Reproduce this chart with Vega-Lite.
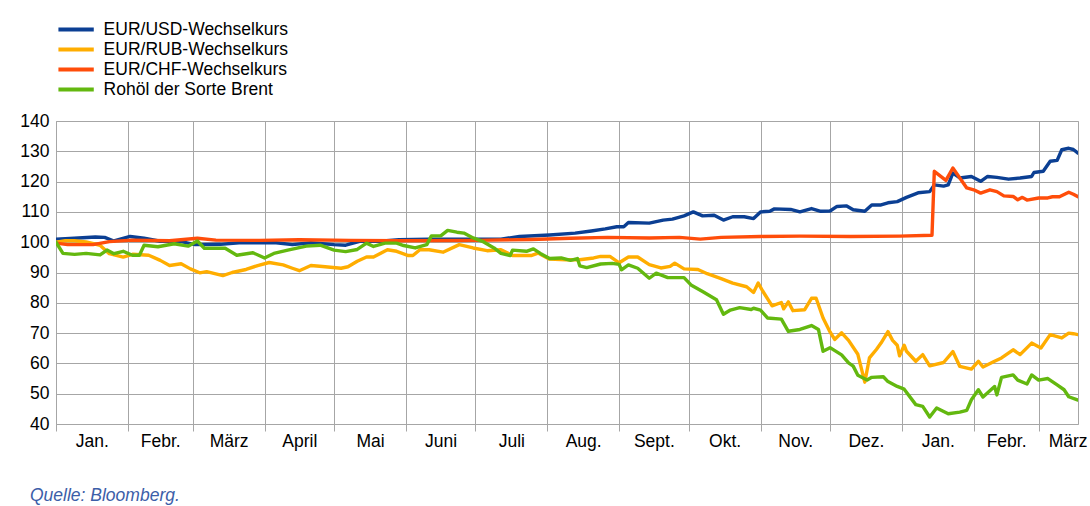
{
 "$schema": "https://vega.github.io/schema/vega-lite/v6.json",
 "width": 1022,
 "height": 303,
 "autosize": {"type": "none"},
 "padding": {"left": 56, "top": 121, "right": 12, "bottom": 82},
 "background": "white",
 "config": {"font": "Liberation Sans", "view": {"stroke": "#a6a6a6", "strokeWidth": 1}},
 "title": {"text": "Quelle: Bloomberg.", "orient": "bottom", "anchor": "start", "frame": "group", "dx": -26, "offset": 37, "fontSize": 17.5, "fontStyle": "italic", "fontWeight": "normal", "color": "#3c5ea8", "font": "Liberation Sans"},
 "data": {"values": [
  {"series": "EUR/USD-Wechselkurs", "date": "2014-01-01", "value": 101},
  {"series": "EUR/USD-Wechselkurs", "date": "2014-01-07", "value": 101.2},
  {"series": "EUR/USD-Wechselkurs", "date": "2014-01-18", "value": 101.7},
  {"series": "EUR/USD-Wechselkurs", "date": "2014-01-22", "value": 101.6},
  {"series": "EUR/USD-Wechselkurs", "date": "2014-01-26", "value": 100.4},
  {"series": "EUR/USD-Wechselkurs", "date": "2014-02-02", "value": 101.9},
  {"series": "EUR/USD-Wechselkurs", "date": "2014-02-08", "value": 101.3},
  {"series": "EUR/USD-Wechselkurs", "date": "2014-02-15", "value": 100.3},
  {"series": "EUR/USD-Wechselkurs", "date": "2014-02-24", "value": 100.2},
  {"series": "EUR/USD-Wechselkurs", "date": "2014-03-02", "value": 99.2},
  {"series": "EUR/USD-Wechselkurs", "date": "2014-03-13", "value": 99.3},
  {"series": "EUR/USD-Wechselkurs", "date": "2014-03-21", "value": 99.8},
  {"series": "EUR/USD-Wechselkurs", "date": "2014-04-06", "value": 99.8},
  {"series": "EUR/USD-Wechselkurs", "date": "2014-04-13", "value": 99.2},
  {"series": "EUR/USD-Wechselkurs", "date": "2014-04-21", "value": 99.8},
  {"series": "EUR/USD-Wechselkurs", "date": "2014-05-01", "value": 99.2},
  {"series": "EUR/USD-Wechselkurs", "date": "2014-05-06", "value": 99},
  {"series": "EUR/USD-Wechselkurs", "date": "2014-05-12", "value": 100.3},
  {"series": "EUR/USD-Wechselkurs", "date": "2014-05-21", "value": 100.3},
  {"series": "EUR/USD-Wechselkurs", "date": "2014-05-29", "value": 100.8},
  {"series": "EUR/USD-Wechselkurs", "date": "2014-06-11", "value": 101},
  {"series": "EUR/USD-Wechselkurs", "date": "2014-06-29", "value": 101},
  {"series": "EUR/USD-Wechselkurs", "date": "2014-07-12", "value": 101},
  {"series": "EUR/USD-Wechselkurs", "date": "2014-07-20", "value": 101.9},
  {"series": "EUR/USD-Wechselkurs", "date": "2014-08-02", "value": 102.4},
  {"series": "EUR/USD-Wechselkurs", "date": "2014-08-13", "value": 103},
  {"series": "EUR/USD-Wechselkurs", "date": "2014-08-20", "value": 103.7},
  {"series": "EUR/USD-Wechselkurs", "date": "2014-08-26", "value": 104.4},
  {"series": "EUR/USD-Wechselkurs", "date": "2014-08-31", "value": 105.1},
  {"series": "EUR/USD-Wechselkurs", "date": "2014-09-03", "value": 105.1},
  {"series": "EUR/USD-Wechselkurs", "date": "2014-09-05", "value": 106.5},
  {"series": "EUR/USD-Wechselkurs", "date": "2014-09-14", "value": 106.3},
  {"series": "EUR/USD-Wechselkurs", "date": "2014-09-20", "value": 107.3},
  {"series": "EUR/USD-Wechselkurs", "date": "2014-09-24", "value": 107.6},
  {"series": "EUR/USD-Wechselkurs", "date": "2014-09-29", "value": 108.7},
  {"series": "EUR/USD-Wechselkurs", "date": "2014-10-03", "value": 110},
  {"series": "EUR/USD-Wechselkurs", "date": "2014-10-07", "value": 108.7},
  {"series": "EUR/USD-Wechselkurs", "date": "2014-10-12", "value": 108.9},
  {"series": "EUR/USD-Wechselkurs", "date": "2014-10-16", "value": 107.3},
  {"series": "EUR/USD-Wechselkurs", "date": "2014-10-20", "value": 108.4},
  {"series": "EUR/USD-Wechselkurs", "date": "2014-10-25", "value": 108.4},
  {"series": "EUR/USD-Wechselkurs", "date": "2014-10-29", "value": 107.8},
  {"series": "EUR/USD-Wechselkurs", "date": "2014-11-01", "value": 110},
  {"series": "EUR/USD-Wechselkurs", "date": "2014-11-05", "value": 110.2},
  {"series": "EUR/USD-Wechselkurs", "date": "2014-11-07", "value": 111},
  {"series": "EUR/USD-Wechselkurs", "date": "2014-11-14", "value": 110.8},
  {"series": "EUR/USD-Wechselkurs", "date": "2014-11-18", "value": 110},
  {"series": "EUR/USD-Wechselkurs", "date": "2014-11-23", "value": 111.1},
  {"series": "EUR/USD-Wechselkurs", "date": "2014-11-27", "value": 110.2},
  {"series": "EUR/USD-Wechselkurs", "date": "2014-12-01", "value": 110.3},
  {"series": "EUR/USD-Wechselkurs", "date": "2014-12-04", "value": 111.8},
  {"series": "EUR/USD-Wechselkurs", "date": "2014-12-08", "value": 112},
  {"series": "EUR/USD-Wechselkurs", "date": "2014-12-11", "value": 110.7},
  {"series": "EUR/USD-Wechselkurs", "date": "2014-12-16", "value": 110.2},
  {"series": "EUR/USD-Wechselkurs", "date": "2014-12-19", "value": 112.3},
  {"series": "EUR/USD-Wechselkurs", "date": "2014-12-23", "value": 112.3},
  {"series": "EUR/USD-Wechselkurs", "date": "2014-12-26", "value": 113},
  {"series": "EUR/USD-Wechselkurs", "date": "2014-12-30", "value": 113.4},
  {"series": "EUR/USD-Wechselkurs", "date": "2015-01-03", "value": 114.8},
  {"series": "EUR/USD-Wechselkurs", "date": "2015-01-08", "value": 116.3},
  {"series": "EUR/USD-Wechselkurs", "date": "2015-01-13", "value": 116.7},
  {"series": "EUR/USD-Wechselkurs", "date": "2015-01-15", "value": 118.9},
  {"series": "EUR/USD-Wechselkurs", "date": "2015-01-19", "value": 118.5},
  {"series": "EUR/USD-Wechselkurs", "date": "2015-01-21", "value": 118.9},
  {"series": "EUR/USD-Wechselkurs", "date": "2015-01-23", "value": 122.8},
  {"series": "EUR/USD-Wechselkurs", "date": "2015-01-26", "value": 121.2},
  {"series": "EUR/USD-Wechselkurs", "date": "2015-01-31", "value": 121.7},
  {"series": "EUR/USD-Wechselkurs", "date": "2015-02-04", "value": 120.1},
  {"series": "EUR/USD-Wechselkurs", "date": "2015-02-07", "value": 121.7},
  {"series": "EUR/USD-Wechselkurs", "date": "2015-02-11", "value": 121.4},
  {"series": "EUR/USD-Wechselkurs", "date": "2015-02-16", "value": 120.8},
  {"series": "EUR/USD-Wechselkurs", "date": "2015-02-21", "value": 121.2},
  {"series": "EUR/USD-Wechselkurs", "date": "2015-02-26", "value": 121.7},
  {"series": "EUR/USD-Wechselkurs", "date": "2015-02-27", "value": 123},
  {"series": "EUR/USD-Wechselkurs", "date": "2015-03-03", "value": 123.4},
  {"series": "EUR/USD-Wechselkurs", "date": "2015-03-06", "value": 126.7},
  {"series": "EUR/USD-Wechselkurs", "date": "2015-03-09", "value": 127},
  {"series": "EUR/USD-Wechselkurs", "date": "2015-03-11", "value": 130.5},
  {"series": "EUR/USD-Wechselkurs", "date": "2015-03-14", "value": 131},
  {"series": "EUR/USD-Wechselkurs", "date": "2015-03-16", "value": 130.6},
  {"series": "EUR/USD-Wechselkurs", "date": "2015-03-18", "value": 129.4},

  {"series": "EUR/RUB-Wechselkurs", "date": "2014-01-01", "value": 100},
  {"series": "EUR/RUB-Wechselkurs", "date": "2014-01-05", "value": 100.5},
  {"series": "EUR/RUB-Wechselkurs", "date": "2014-01-09", "value": 100.5},
  {"series": "EUR/RUB-Wechselkurs", "date": "2014-01-14", "value": 100.1},
  {"series": "EUR/RUB-Wechselkurs", "date": "2014-01-20", "value": 99},
  {"series": "EUR/RUB-Wechselkurs", "date": "2014-01-24", "value": 96.2},
  {"series": "EUR/RUB-Wechselkurs", "date": "2014-01-30", "value": 95.1},
  {"series": "EUR/RUB-Wechselkurs", "date": "2014-02-03", "value": 96},
  {"series": "EUR/RUB-Wechselkurs", "date": "2014-02-10", "value": 95.7},
  {"series": "EUR/RUB-Wechselkurs", "date": "2014-02-15", "value": 94},
  {"series": "EUR/RUB-Wechselkurs", "date": "2014-02-19", "value": 92.3},
  {"series": "EUR/RUB-Wechselkurs", "date": "2014-02-24", "value": 92.9},
  {"series": "EUR/RUB-Wechselkurs", "date": "2014-02-28", "value": 91.2},
  {"series": "EUR/RUB-Wechselkurs", "date": "2014-03-04", "value": 89.9},
  {"series": "EUR/RUB-Wechselkurs", "date": "2014-03-07", "value": 90.3},
  {"series": "EUR/RUB-Wechselkurs", "date": "2014-03-14", "value": 89},
  {"series": "EUR/RUB-Wechselkurs", "date": "2014-03-18", "value": 90},
  {"series": "EUR/RUB-Wechselkurs", "date": "2014-03-24", "value": 91},
  {"series": "EUR/RUB-Wechselkurs", "date": "2014-03-29", "value": 92.3},
  {"series": "EUR/RUB-Wechselkurs", "date": "2014-04-03", "value": 93.3},
  {"series": "EUR/RUB-Wechselkurs", "date": "2014-04-09", "value": 92.5},
  {"series": "EUR/RUB-Wechselkurs", "date": "2014-04-13", "value": 91.4},
  {"series": "EUR/RUB-Wechselkurs", "date": "2014-04-16", "value": 90.6},
  {"series": "EUR/RUB-Wechselkurs", "date": "2014-04-21", "value": 92.3},
  {"series": "EUR/RUB-Wechselkurs", "date": "2014-04-26", "value": 92},
  {"series": "EUR/RUB-Wechselkurs", "date": "2014-05-04", "value": 91.4},
  {"series": "EUR/RUB-Wechselkurs", "date": "2014-05-07", "value": 91.9},
  {"series": "EUR/RUB-Wechselkurs", "date": "2014-05-11", "value": 93.7},
  {"series": "EUR/RUB-Wechselkurs", "date": "2014-05-15", "value": 95.1},
  {"series": "EUR/RUB-Wechselkurs", "date": "2014-05-18", "value": 95.1},
  {"series": "EUR/RUB-Wechselkurs", "date": "2014-05-24", "value": 97.5},
  {"series": "EUR/RUB-Wechselkurs", "date": "2014-05-28", "value": 97},
  {"series": "EUR/RUB-Wechselkurs", "date": "2014-06-02", "value": 95.6},
  {"series": "EUR/RUB-Wechselkurs", "date": "2014-06-04", "value": 95.6},
  {"series": "EUR/RUB-Wechselkurs", "date": "2014-06-07", "value": 97.5},
  {"series": "EUR/RUB-Wechselkurs", "date": "2014-06-11", "value": 97.5},
  {"series": "EUR/RUB-Wechselkurs", "date": "2014-06-17", "value": 96.7},
  {"series": "EUR/RUB-Wechselkurs", "date": "2014-06-24", "value": 99.2},
  {"series": "EUR/RUB-Wechselkurs", "date": "2014-06-30", "value": 98.1},
  {"series": "EUR/RUB-Wechselkurs", "date": "2014-07-06", "value": 97.2},
  {"series": "EUR/RUB-Wechselkurs", "date": "2014-07-12", "value": 97.5},
  {"series": "EUR/RUB-Wechselkurs", "date": "2014-07-17", "value": 95.6},
  {"series": "EUR/RUB-Wechselkurs", "date": "2014-07-25", "value": 95.6},
  {"series": "EUR/RUB-Wechselkurs", "date": "2014-07-28", "value": 96.4},
  {"series": "EUR/RUB-Wechselkurs", "date": "2014-08-02", "value": 94.4},
  {"series": "EUR/RUB-Wechselkurs", "date": "2014-08-09", "value": 94.2},
  {"series": "EUR/RUB-Wechselkurs", "date": "2014-08-15", "value": 94.2},
  {"series": "EUR/RUB-Wechselkurs", "date": "2014-08-21", "value": 94.8},
  {"series": "EUR/RUB-Wechselkurs", "date": "2014-08-24", "value": 95.3},
  {"series": "EUR/RUB-Wechselkurs", "date": "2014-08-28", "value": 95.3},
  {"series": "EUR/RUB-Wechselkurs", "date": "2014-09-01", "value": 93.2},
  {"series": "EUR/RUB-Wechselkurs", "date": "2014-09-05", "value": 95.1},
  {"series": "EUR/RUB-Wechselkurs", "date": "2014-09-09", "value": 95.1},
  {"series": "EUR/RUB-Wechselkurs", "date": "2014-09-14", "value": 92.6},
  {"series": "EUR/RUB-Wechselkurs", "date": "2014-09-19", "value": 91.5},
  {"series": "EUR/RUB-Wechselkurs", "date": "2014-09-23", "value": 92},
  {"series": "EUR/RUB-Wechselkurs", "date": "2014-09-25", "value": 93.1},
  {"series": "EUR/RUB-Wechselkurs", "date": "2014-09-29", "value": 91.2},
  {"series": "EUR/RUB-Wechselkurs", "date": "2014-10-05", "value": 91},
  {"series": "EUR/RUB-Wechselkurs", "date": "2014-10-09", "value": 89.6},
  {"series": "EUR/RUB-Wechselkurs", "date": "2014-10-15", "value": 88},
  {"series": "EUR/RUB-Wechselkurs", "date": "2014-10-20", "value": 86.5},
  {"series": "EUR/RUB-Wechselkurs", "date": "2014-10-26", "value": 85.3},
  {"series": "EUR/RUB-Wechselkurs", "date": "2014-10-29", "value": 83.4},
  {"series": "EUR/RUB-Wechselkurs", "date": "2014-10-31", "value": 86.5},
  {"series": "EUR/RUB-Wechselkurs", "date": "2014-11-02", "value": 83.8},
  {"series": "EUR/RUB-Wechselkurs", "date": "2014-11-06", "value": 79},
  {"series": "EUR/RUB-Wechselkurs", "date": "2014-11-10", "value": 80.1},
  {"series": "EUR/RUB-Wechselkurs", "date": "2014-11-11", "value": 78},
  {"series": "EUR/RUB-Wechselkurs", "date": "2014-11-13", "value": 80.3},
  {"series": "EUR/RUB-Wechselkurs", "date": "2014-11-15", "value": 77.4},
  {"series": "EUR/RUB-Wechselkurs", "date": "2014-11-20", "value": 77.7},
  {"series": "EUR/RUB-Wechselkurs", "date": "2014-11-23", "value": 81.5},
  {"series": "EUR/RUB-Wechselkurs", "date": "2014-11-25", "value": 81.5},
  {"series": "EUR/RUB-Wechselkurs", "date": "2014-11-28", "value": 75},
  {"series": "EUR/RUB-Wechselkurs", "date": "2014-12-01", "value": 70.4},
  {"series": "EUR/RUB-Wechselkurs", "date": "2014-12-03", "value": 67.9},
  {"series": "EUR/RUB-Wechselkurs", "date": "2014-12-06", "value": 70.1},
  {"series": "EUR/RUB-Wechselkurs", "date": "2014-12-09", "value": 67.6},
  {"series": "EUR/RUB-Wechselkurs", "date": "2014-12-13", "value": 63},
  {"series": "EUR/RUB-Wechselkurs", "date": "2014-12-16", "value": 53.8},
  {"series": "EUR/RUB-Wechselkurs", "date": "2014-12-18", "value": 61.8},
  {"series": "EUR/RUB-Wechselkurs", "date": "2014-12-21", "value": 64.6},
  {"series": "EUR/RUB-Wechselkurs", "date": "2014-12-23", "value": 66.7},
  {"series": "EUR/RUB-Wechselkurs", "date": "2014-12-26", "value": 70.5},
  {"series": "EUR/RUB-Wechselkurs", "date": "2014-12-28", "value": 67.6},
  {"series": "EUR/RUB-Wechselkurs", "date": "2014-12-30", "value": 66},
  {"series": "EUR/RUB-Wechselkurs", "date": "2014-12-31", "value": 62.5},
  {"series": "EUR/RUB-Wechselkurs", "date": "2015-01-02", "value": 66},
  {"series": "EUR/RUB-Wechselkurs", "date": "2015-01-03", "value": 64},
  {"series": "EUR/RUB-Wechselkurs", "date": "2015-01-07", "value": 60.7},
  {"series": "EUR/RUB-Wechselkurs", "date": "2015-01-10", "value": 62.9},
  {"series": "EUR/RUB-Wechselkurs", "date": "2015-01-13", "value": 59.2},
  {"series": "EUR/RUB-Wechselkurs", "date": "2015-01-19", "value": 60.3},
  {"series": "EUR/RUB-Wechselkurs", "date": "2015-01-23", "value": 63.9},
  {"series": "EUR/RUB-Wechselkurs", "date": "2015-01-26", "value": 59},
  {"series": "EUR/RUB-Wechselkurs", "date": "2015-01-31", "value": 58.1},
  {"series": "EUR/RUB-Wechselkurs", "date": "2015-02-03", "value": 60.7},
  {"series": "EUR/RUB-Wechselkurs", "date": "2015-02-05", "value": 58.8},
  {"series": "EUR/RUB-Wechselkurs", "date": "2015-02-10", "value": 60.7},
  {"series": "EUR/RUB-Wechselkurs", "date": "2015-02-13", "value": 61.8},
  {"series": "EUR/RUB-Wechselkurs", "date": "2015-02-18", "value": 64.5},
  {"series": "EUR/RUB-Wechselkurs", "date": "2015-02-21", "value": 62.9},
  {"series": "EUR/RUB-Wechselkurs", "date": "2015-02-26", "value": 66.7},
  {"series": "EUR/RUB-Wechselkurs", "date": "2015-03-02", "value": 65.1},
  {"series": "EUR/RUB-Wechselkurs", "date": "2015-03-06", "value": 69.5},
  {"series": "EUR/RUB-Wechselkurs", "date": "2015-03-11", "value": 68.4},
  {"series": "EUR/RUB-Wechselkurs", "date": "2015-03-14", "value": 70},
  {"series": "EUR/RUB-Wechselkurs", "date": "2015-03-16", "value": 69.8},
  {"series": "EUR/RUB-Wechselkurs", "date": "2015-03-18", "value": 69.5},

  {"series": "EUR/CHF-Wechselkurs", "date": "2014-01-01", "value": 99.7},
  {"series": "EUR/CHF-Wechselkurs", "date": "2014-01-06", "value": 99.2},
  {"series": "EUR/CHF-Wechselkurs", "date": "2014-01-17", "value": 99.2},
  {"series": "EUR/CHF-Wechselkurs", "date": "2014-01-24", "value": 100.2},
  {"series": "EUR/CHF-Wechselkurs", "date": "2014-02-03", "value": 100.7},
  {"series": "EUR/CHF-Wechselkurs", "date": "2014-02-19", "value": 100.5},
  {"series": "EUR/CHF-Wechselkurs", "date": "2014-03-03", "value": 101.3},
  {"series": "EUR/CHF-Wechselkurs", "date": "2014-03-11", "value": 100.7},
  {"series": "EUR/CHF-Wechselkurs", "date": "2014-03-30", "value": 100.6},
  {"series": "EUR/CHF-Wechselkurs", "date": "2014-04-16", "value": 100.8},
  {"series": "EUR/CHF-Wechselkurs", "date": "2014-05-08", "value": 100.6},
  {"series": "EUR/CHF-Wechselkurs", "date": "2014-05-29", "value": 100.5},
  {"series": "EUR/CHF-Wechselkurs", "date": "2014-07-01", "value": 100.6},
  {"series": "EUR/CHF-Wechselkurs", "date": "2014-07-25", "value": 100.9},
  {"series": "EUR/CHF-Wechselkurs", "date": "2014-08-11", "value": 101.3},
  {"series": "EUR/CHF-Wechselkurs", "date": "2014-08-27", "value": 101.6},
  {"series": "EUR/CHF-Wechselkurs", "date": "2014-09-14", "value": 101.4},
  {"series": "EUR/CHF-Wechselkurs", "date": "2014-09-27", "value": 101.6},
  {"series": "EUR/CHF-Wechselkurs", "date": "2014-10-06", "value": 101},
  {"series": "EUR/CHF-Wechselkurs", "date": "2014-10-15", "value": 101.6},
  {"series": "EUR/CHF-Wechselkurs", "date": "2014-11-01", "value": 101.9},
  {"series": "EUR/CHF-Wechselkurs", "date": "2014-11-18", "value": 102},
  {"series": "EUR/CHF-Wechselkurs", "date": "2014-12-10", "value": 101.9},
  {"series": "EUR/CHF-Wechselkurs", "date": "2014-12-31", "value": 102},
  {"series": "EUR/CHF-Wechselkurs", "date": "2015-01-14", "value": 102.3},
  {"series": "EUR/CHF-Wechselkurs", "date": "2015-01-15", "value": 123.4},
  {"series": "EUR/CHF-Wechselkurs", "date": "2015-01-20", "value": 120.4},
  {"series": "EUR/CHF-Wechselkurs", "date": "2015-01-23", "value": 124.5},
  {"series": "EUR/CHF-Wechselkurs", "date": "2015-01-26", "value": 121.2},
  {"series": "EUR/CHF-Wechselkurs", "date": "2015-01-29", "value": 117.9},
  {"series": "EUR/CHF-Wechselkurs", "date": "2015-02-01", "value": 117.3},
  {"series": "EUR/CHF-Wechselkurs", "date": "2015-02-04", "value": 116.2},
  {"series": "EUR/CHF-Wechselkurs", "date": "2015-02-08", "value": 117.3},
  {"series": "EUR/CHF-Wechselkurs", "date": "2015-02-11", "value": 116.7},
  {"series": "EUR/CHF-Wechselkurs", "date": "2015-02-14", "value": 115.3},
  {"series": "EUR/CHF-Wechselkurs", "date": "2015-02-18", "value": 115.1},
  {"series": "EUR/CHF-Wechselkurs", "date": "2015-02-20", "value": 114},
  {"series": "EUR/CHF-Wechselkurs", "date": "2015-02-22", "value": 114.8},
  {"series": "EUR/CHF-Wechselkurs", "date": "2015-02-24", "value": 113.9},
  {"series": "EUR/CHF-Wechselkurs", "date": "2015-03-01", "value": 114.6},
  {"series": "EUR/CHF-Wechselkurs", "date": "2015-03-05", "value": 114.6},
  {"series": "EUR/CHF-Wechselkurs", "date": "2015-03-07", "value": 115},
  {"series": "EUR/CHF-Wechselkurs", "date": "2015-03-10", "value": 115},
  {"series": "EUR/CHF-Wechselkurs", "date": "2015-03-14", "value": 116.5},
  {"series": "EUR/CHF-Wechselkurs", "date": "2015-03-16", "value": 115.8},
  {"series": "EUR/CHF-Wechselkurs", "date": "2015-03-18", "value": 115},

  {"series": "Rohöl der Sorte Brent", "date": "2014-01-01", "value": 100},
  {"series": "Rohöl der Sorte Brent", "date": "2014-01-04", "value": 96.3},
  {"series": "Rohöl der Sorte Brent", "date": "2014-01-09", "value": 96},
  {"series": "Rohöl der Sorte Brent", "date": "2014-01-14", "value": 96.3},
  {"series": "Rohöl der Sorte Brent", "date": "2014-01-20", "value": 95.8},
  {"series": "Rohöl der Sorte Brent", "date": "2014-01-23", "value": 97.4},
  {"series": "Rohöl der Sorte Brent", "date": "2014-01-26", "value": 96.2},
  {"series": "Rohöl der Sorte Brent", "date": "2014-01-30", "value": 97},
  {"series": "Rohöl der Sorte Brent", "date": "2014-02-03", "value": 95.7},
  {"series": "Rohöl der Sorte Brent", "date": "2014-02-06", "value": 95.7},
  {"series": "Rohöl der Sorte Brent", "date": "2014-02-08", "value": 99},
  {"series": "Rohöl der Sorte Brent", "date": "2014-02-14", "value": 98.5},
  {"series": "Rohöl der Sorte Brent", "date": "2014-02-21", "value": 99.5},
  {"series": "Rohöl der Sorte Brent", "date": "2014-02-27", "value": 98.7},
  {"series": "Rohöl der Sorte Brent", "date": "2014-03-03", "value": 100.4},
  {"series": "Rohöl der Sorte Brent", "date": "2014-03-06", "value": 98},
  {"series": "Rohöl der Sorte Brent", "date": "2014-03-15", "value": 98},
  {"series": "Rohöl der Sorte Brent", "date": "2014-03-20", "value": 95.7},
  {"series": "Rohöl der Sorte Brent", "date": "2014-03-27", "value": 96.5},
  {"series": "Rohöl der Sorte Brent", "date": "2014-04-01", "value": 94.8},
  {"series": "Rohöl der Sorte Brent", "date": "2014-04-05", "value": 96.3},
  {"series": "Rohöl der Sorte Brent", "date": "2014-04-11", "value": 97.4},
  {"series": "Rohöl der Sorte Brent", "date": "2014-04-19", "value": 98.7},
  {"series": "Rohöl der Sorte Brent", "date": "2014-04-25", "value": 99},
  {"series": "Rohöl der Sorte Brent", "date": "2014-05-01", "value": 97.4},
  {"series": "Rohöl der Sorte Brent", "date": "2014-05-06", "value": 96.9},
  {"series": "Rohöl der Sorte Brent", "date": "2014-05-11", "value": 97.6},
  {"series": "Rohöl der Sorte Brent", "date": "2014-05-15", "value": 99.7},
  {"series": "Rohöl der Sorte Brent", "date": "2014-05-18", "value": 98.6},
  {"series": "Rohöl der Sorte Brent", "date": "2014-05-23", "value": 99.7},
  {"series": "Rohöl der Sorte Brent", "date": "2014-05-28", "value": 99.7},
  {"series": "Rohöl der Sorte Brent", "date": "2014-05-31", "value": 98.9},
  {"series": "Rohöl der Sorte Brent", "date": "2014-06-05", "value": 98.1},
  {"series": "Rohöl der Sorte Brent", "date": "2014-06-10", "value": 99.2},
  {"series": "Rohöl der Sorte Brent", "date": "2014-06-12", "value": 102.1},
  {"series": "Rohöl der Sorte Brent", "date": "2014-06-16", "value": 102.1},
  {"series": "Rohöl der Sorte Brent", "date": "2014-06-19", "value": 103.9},
  {"series": "Rohöl der Sorte Brent", "date": "2014-06-23", "value": 103.3},
  {"series": "Rohöl der Sorte Brent", "date": "2014-06-26", "value": 103},
  {"series": "Rohöl der Sorte Brent", "date": "2014-06-30", "value": 101.4},
  {"series": "Rohöl der Sorte Brent", "date": "2014-07-04", "value": 100.3},
  {"series": "Rohöl der Sorte Brent", "date": "2014-07-09", "value": 98.1},
  {"series": "Rohöl der Sorte Brent", "date": "2014-07-12", "value": 96.3},
  {"series": "Rohöl der Sorte Brent", "date": "2014-07-16", "value": 95.6},
  {"series": "Rohöl der Sorte Brent", "date": "2014-07-17", "value": 97.4},
  {"series": "Rohöl der Sorte Brent", "date": "2014-07-23", "value": 97},
  {"series": "Rohöl der Sorte Brent", "date": "2014-07-26", "value": 97.8},
  {"series": "Rohöl der Sorte Brent", "date": "2014-07-29", "value": 96.3},
  {"series": "Rohöl der Sorte Brent", "date": "2014-08-02", "value": 94.6},
  {"series": "Rohöl der Sorte Brent", "date": "2014-08-07", "value": 94.8},
  {"series": "Rohöl der Sorte Brent", "date": "2014-08-11", "value": 94},
  {"series": "Rohöl der Sorte Brent", "date": "2014-08-14", "value": 94.6},
  {"series": "Rohöl der Sorte Brent", "date": "2014-08-15", "value": 92.2},
  {"series": "Rohöl der Sorte Brent", "date": "2014-08-18", "value": 91.6},
  {"series": "Rohöl der Sorte Brent", "date": "2014-08-24", "value": 92.8},
  {"series": "Rohöl der Sorte Brent", "date": "2014-08-29", "value": 93},
  {"series": "Rohöl der Sorte Brent", "date": "2014-09-01", "value": 92.7},
  {"series": "Rohöl der Sorte Brent", "date": "2014-09-02", "value": 90.9},
  {"series": "Rohöl der Sorte Brent", "date": "2014-09-05", "value": 92.5},
  {"series": "Rohöl der Sorte Brent", "date": "2014-09-09", "value": 91.4},
  {"series": "Rohöl der Sorte Brent", "date": "2014-09-14", "value": 88.1},
  {"series": "Rohöl der Sorte Brent", "date": "2014-09-17", "value": 89.8},
  {"series": "Rohöl der Sorte Brent", "date": "2014-09-22", "value": 88.3},
  {"series": "Rohöl der Sorte Brent", "date": "2014-09-29", "value": 88.3},
  {"series": "Rohöl der Sorte Brent", "date": "2014-10-02", "value": 85.9},
  {"series": "Rohöl der Sorte Brent", "date": "2014-10-07", "value": 83.7},
  {"series": "Rohöl der Sorte Brent", "date": "2014-10-13", "value": 81},
  {"series": "Rohöl der Sorte Brent", "date": "2014-10-16", "value": 76.2},
  {"series": "Rohöl der Sorte Brent", "date": "2014-10-19", "value": 77.6},
  {"series": "Rohöl der Sorte Brent", "date": "2014-10-23", "value": 78.4},
  {"series": "Rohöl der Sorte Brent", "date": "2014-10-28", "value": 77.8},
  {"series": "Rohöl der Sorte Brent", "date": "2014-10-29", "value": 78.2},
  {"series": "Rohöl der Sorte Brent", "date": "2014-11-01", "value": 77.6},
  {"series": "Rohöl der Sorte Brent", "date": "2014-11-04", "value": 75},
  {"series": "Rohöl der Sorte Brent", "date": "2014-11-10", "value": 74.6},
  {"series": "Rohöl der Sorte Brent", "date": "2014-11-13", "value": 70.6},
  {"series": "Rohöl der Sorte Brent", "date": "2014-11-18", "value": 71.2},
  {"series": "Rohöl der Sorte Brent", "date": "2014-11-23", "value": 72.5},
  {"series": "Rohöl der Sorte Brent", "date": "2014-11-26", "value": 71.2},
  {"series": "Rohöl der Sorte Brent", "date": "2014-11-28", "value": 64},
  {"series": "Rohöl der Sorte Brent", "date": "2014-12-01", "value": 65.2},
  {"series": "Rohöl der Sorte Brent", "date": "2014-12-06", "value": 62.8},
  {"series": "Rohöl der Sorte Brent", "date": "2014-12-09", "value": 60.2},
  {"series": "Rohöl der Sorte Brent", "date": "2014-12-11", "value": 59.1},
  {"series": "Rohöl der Sorte Brent", "date": "2014-12-13", "value": 56.1},
  {"series": "Rohöl der Sorte Brent", "date": "2014-12-17", "value": 54.5},
  {"series": "Rohöl der Sorte Brent", "date": "2014-12-19", "value": 55.4},
  {"series": "Rohöl der Sorte Brent", "date": "2014-12-24", "value": 55.6},
  {"series": "Rohöl der Sorte Brent", "date": "2014-12-26", "value": 54},
  {"series": "Rohöl der Sorte Brent", "date": "2014-12-30", "value": 52.4},
  {"series": "Rohöl der Sorte Brent", "date": "2015-01-02", "value": 51.5},
  {"series": "Rohöl der Sorte Brent", "date": "2015-01-07", "value": 46.4},
  {"series": "Rohöl der Sorte Brent", "date": "2015-01-10", "value": 45.8},
  {"series": "Rohöl der Sorte Brent", "date": "2015-01-13", "value": 42.3},
  {"series": "Rohöl der Sorte Brent", "date": "2015-01-16", "value": 45.3},
  {"series": "Rohöl der Sorte Brent", "date": "2015-01-21", "value": 43.4},
  {"series": "Rohöl der Sorte Brent", "date": "2015-01-26", "value": 43.9},
  {"series": "Rohöl der Sorte Brent", "date": "2015-01-29", "value": 44.5},
  {"series": "Rohöl der Sorte Brent", "date": "2015-01-31", "value": 48},
  {"series": "Rohöl der Sorte Brent", "date": "2015-02-03", "value": 51.3},
  {"series": "Rohöl der Sorte Brent", "date": "2015-02-05", "value": 48.9},
  {"series": "Rohöl der Sorte Brent", "date": "2015-02-10", "value": 52.4},
  {"series": "Rohöl der Sorte Brent", "date": "2015-02-11", "value": 49.6},
  {"series": "Rohöl der Sorte Brent", "date": "2015-02-13", "value": 55.4},
  {"series": "Rohöl der Sorte Brent", "date": "2015-02-18", "value": 56.2},
  {"series": "Rohöl der Sorte Brent", "date": "2015-02-20", "value": 54.5},
  {"series": "Rohöl der Sorte Brent", "date": "2015-02-24", "value": 53.2},
  {"series": "Rohöl der Sorte Brent", "date": "2015-02-26", "value": 56.2},
  {"series": "Rohöl der Sorte Brent", "date": "2015-03-01", "value": 54.5},
  {"series": "Rohöl der Sorte Brent", "date": "2015-03-05", "value": 55},
  {"series": "Rohöl der Sorte Brent", "date": "2015-03-09", "value": 52.9},
  {"series": "Rohöl der Sorte Brent", "date": "2015-03-12", "value": 51.3},
  {"series": "Rohöl der Sorte Brent", "date": "2015-03-14", "value": 49},
  {"series": "Rohöl der Sorte Brent", "date": "2015-03-18", "value": 47.9}
 ]},
 "mark": {"type": "line", "strokeWidth": 3.4, "strokeJoin": "round", "strokeCap": "round", "clip": true},
 "encoding": {
  "x": {
   "field": "date", "type": "temporal",
   "scale": {"type": "utc", "domain": [{"year": 2014, "month": 1, "date": 1, "utc": true}, {"year": 2015, "month": 3, "date": 18, "utc": true}]},
   "axis": {
    "title": null,
    "values": [
     {"year": 2014, "month": 1, "date": 1, "utc": true},
     {"year": 2014, "month": 2, "date": 1, "utc": true},
     {"year": 2014, "month": 3, "date": 1, "utc": true},
     {"year": 2014, "month": 4, "date": 1, "utc": true},
     {"year": 2014, "month": 5, "date": 1, "utc": true},
     {"year": 2014, "month": 6, "date": 1, "utc": true},
     {"year": 2014, "month": 7, "date": 1, "utc": true},
     {"year": 2014, "month": 8, "date": 1, "utc": true},
     {"year": 2014, "month": 9, "date": 1, "utc": true},
     {"year": 2014, "month": 10, "date": 1, "utc": true},
     {"year": 2014, "month": 11, "date": 1, "utc": true},
     {"year": 2014, "month": 12, "date": 1, "utc": true},
     {"year": 2015, "month": 1, "date": 1, "utc": true},
     {"year": 2015, "month": 2, "date": 1, "utc": true},
     {"year": 2015, "month": 3, "date": 1, "utc": true}
    ],
    "labelExpr": "['Jan.','Febr.','März','April','Mai','Juni','Juli','Aug.','Sept.','Okt.','Nov.','Dez.'][utcmonth(datum.value)]",
    "labelAlign": "center",
    "labelOffset": {"condition": [
     {"test": "utcmonth(datum.value) == 1", "value": 32.4},
     {"test": "utcyear(datum.value) == 2015 && utcmonth(datum.value) == 2", "value": 29},
     {"test": "utcmonth(datum.value) == 3 || utcmonth(datum.value) == 5 || utcmonth(datum.value) == 8 || utcmonth(datum.value) == 10", "value": 34.7}
    ], "value": 35.9},
    "labelFlush": false,
    "labelOverlap": false,
    "labelBound": false,
    "labelFontSize": 17.5,
    "labelColor": "#000000",
    "labelPadding": 1,
    "tickSize": 7,
    "tickColor": "#a6a6a6",
    "domain": false,
    "grid": true,
    "gridColor": "#a6a6a6",
    "gridOpacity": 1
   }
  },
  "y": {
   "field": "value", "type": "quantitative",
   "scale": {"domain": [40, 140], "nice": false, "zero": false},
   "axis": {"title": null, "values": [40, 50, 60, 70, 80, 90, 100, 110, 120, 130, 140], "grid": true, "gridColor": "#a6a6a6", "gridOpacity": 1, "ticks": false, "domain": false, "labelFontSize": 17.5, "labelColor": "#000000", "labelPadding": 7}
  },
  "color": {
   "field": "series", "type": "nominal",
   "scale": {"domain": ["EUR/USD-Wechselkurs", "EUR/RUB-Wechselkurs", "EUR/CHF-Wechselkurs", "Rohöl der Sorte Brent"], "range": ["#0b3f93", "#ffad00", "#ff4d0a", "#63b80f"]},
   "legend": {"title": null, "orient": "none", "legendX": 10.6, "legendY": -101, "padding": 0, "symbolType": "M-2.5,0H2.5", "symbolSize": 200, "symbolStrokeWidth": 4, "labelOffset": 18, "labelLimit": 0, "rowPadding": 2, "labelFontSize": 17.5, "labelColor": "#000000", "labelFont": "Liberation Sans"}
  }
 }
}
